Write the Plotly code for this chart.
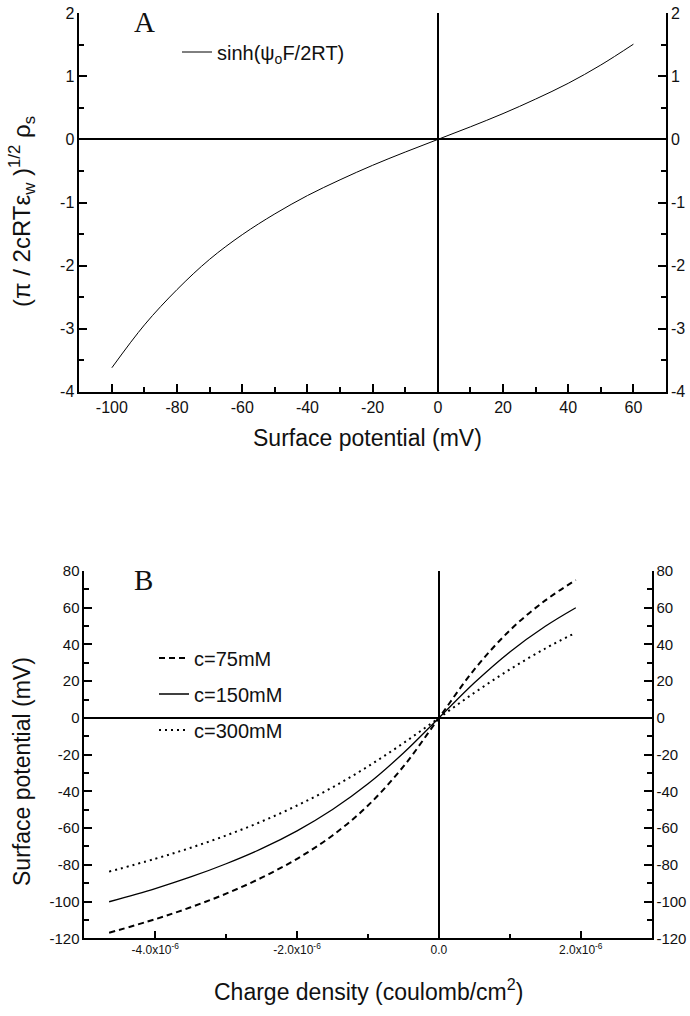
import plotly.graph_objects as go

# ---------- Panel A data ----------
psi_mV = [-100, -90, -80, -70, -60, -50, -40, -30, -20, -10, 0, 10, 20, 30, 40, 50, 60]
sinh_vals = [-3.62, -2.94, -2.38, -1.90, -1.51, -1.18, -0.89, -0.64, -0.41, -0.20, 0.0,
             0.20, 0.41, 0.64, 0.89, 1.18, 1.51]
xA_ticks = [-100, -80, -60, -40, -20, 0, 20, 40, 60]
yA_ticks = [-4, -3, -2, -1, 0, 1, 2]

# ---------- Panel B data ----------
sigma = [-4.65e-6, -4.0e-6, -3.5e-6, -3.0e-6, -2.5e-6, -2.0e-6, -1.5e-6, -1.0e-6, -0.5e-6,
         0.0, 0.5e-6, 1.0e-6, 1.5e-6, 1.93e-6]
pot_75 = [-117.0, -109.6, -103.1, -95.7, -87.0, -76.7, -64.0, -47.7, -26.4,
          0.0, 26.4, 47.7, 64.0, 75.1]
pot_150 = [-100.1, -92.9, -86.6, -79.4, -71.2, -61.5, -49.9, -35.9, -19.1,
           0.0, 19.1, 35.9, 49.9, 60.0]
pot_300 = [-83.7, -76.7, -70.7, -64.0, -56.4, -47.7, -37.8, -26.4, -13.7,
           0.0, 13.7, 26.4, 37.8, 46.4]
xB_tickvals = [-4e-6, -2e-6, 0.0, 2e-6]
xB_ticktext = ["-4.0x10<sup>-6</sup>", "-2.0x10<sup>-6</sup>", "0.0", "2.0x10<sup>-6</sup>"]
yB_ticks = [-120, -100, -80, -60, -40, -20, 0, 20, 40, 60, 80]

W, H = 690, 1016
FONT = "Liberation Sans, Arial, sans-serif"
INK = "#111"


def px_x(p):
    return p / W


def px_y(p):
    return 1 - p / H


def lab(v):
    return str(v)  # plain hyphen-minus like the original


fig = go.Figure()

fig.add_trace(go.Scatter(x=psi_mV, y=sinh_vals, mode="lines",
                         line=dict(color="black", width=1, shape="spline"),
                         name="sinh(ψ<sub>o</sub>F/2RT)", xaxis="x", yaxis="y", legend="legend"))
# same curve referenced on the right-hand axis so that axis gets drawn
fig.add_trace(go.Scatter(x=psi_mV, y=sinh_vals, mode="lines", line=dict(color="rgba(0,0,0,0)", width=1),
                         showlegend=False, hoverinfo="skip", xaxis="x", yaxis="y2"))

fig.add_trace(go.Scatter(x=sigma, y=pot_75, mode="lines", name="c=75mM",
                         line=dict(color="black", width=2, dash="6px,4px", shape="spline"),
                         xaxis="x3", yaxis="y3", legend="legend2", legendgroup="a"))
fig.add_trace(go.Scatter(x=sigma, y=pot_150, mode="lines", name="c=150mM",
                         line=dict(color="black", width=1.3, shape="spline"),
                         xaxis="x3", yaxis="y3", legend="legend2", legendgroup="b"))
fig.add_trace(go.Scatter(x=sigma, y=pot_300, mode="lines", name="c=300mM",
                         line=dict(color="black", width=2, dash="2px,4px", shape="spline"),
                         xaxis="x3", yaxis="y3", legend="legend2", legendgroup="c"))
fig.add_trace(go.Scatter(x=sigma, y=pot_150, mode="lines", line=dict(color="rgba(0,0,0,0)", width=1),
                         showlegend=False, hoverinfo="skip", xaxis="x3", yaxis="y4"))


def ax(size, **kw):
    d = dict(showgrid=False, showline=True, linecolor="black", linewidth=1.5, automargin=False,
             ticks="inside", ticklen=8, tickwidth=1.5, tickcolor="black",
             tickfont=dict(family=FONT, size=size, color=INK), zeroline=False)
    d.update(kw)
    return d


def minor(**kw):
    d = dict(ticks="inside", ticklen=5, tickwidth=1.5, tickcolor="black")
    d.update(kw)
    return d


domA_x = [px_x(79.3), px_x(666)]
domA_y = [px_y(391.7), px_y(13.3)]
domB_x = [px_x(84.3), px_x(651.7)]
domB_y = [px_y(938.3), px_y(571)]

fig.update_layout(
    width=W, height=H, margin=dict(l=0, r=0, t=0, b=0, autoexpand=False),
    paper_bgcolor="white", plot_bgcolor="white",
    xaxis=ax(16, domain=domA_x, range=[-110, 70], anchor="y",
             tickvals=xA_ticks, ticktext=[lab(v) for v in xA_ticks],
             zeroline=True, zerolinecolor="black", zerolinewidth=1.5,
             minor=minor(dtick=10, tick0=0)),
    yaxis=ax(16, domain=domA_y, range=[-4, 2], anchor="x",
             tickvals=yA_ticks, ticktext=[lab(v) for v in yA_ticks],
             zeroline=True, zerolinecolor="black", zerolinewidth=1.5,
             minor=minor(dtick=0.5, tick0=0)),
    yaxis2=ax(16, domain=domA_y, range=[-4, 2], anchor="x", overlaying="y", side="right",
              tickvals=yA_ticks, ticktext=[lab(v) for v in yA_ticks],
              minor=minor(dtick=0.5, tick0=0)),
    xaxis3=ax(12, domain=domB_x, range=[-5e-6, 3e-6], anchor="y3",
              tickvals=xB_tickvals, ticktext=xB_ticktext,
              zeroline=True, zerolinecolor="black", zerolinewidth=1.5,
              minor=minor(tickvals=[-5e-6, -3e-6, -1e-6, 1e-6, 3e-6])),
    yaxis3=ax(15, domain=domB_y, range=[-120, 80], anchor="x3",
              tickvals=yB_ticks, ticktext=[lab(v) for v in yB_ticks],
              zeroline=True, zerolinecolor="black", zerolinewidth=1.5,
              minor=minor(dtick=10, tick0=0)),
    yaxis4=ax(15, domain=domB_y, range=[-120, 80], anchor="x3", overlaying="y3", side="right",
              tickvals=yB_ticks, ticktext=[lab(v) for v in yB_ticks],
              minor=minor(dtick=10, tick0=0)),
    legend=dict(x=px_x(177), y=px_y(52), xanchor="left", yanchor="middle", bgcolor="rgba(0,0,0,0)",
                font=dict(family=FONT, size=20, color=INK)),
    legend2=dict(x=px_x(154), y=px_y(694), xanchor="left", yanchor="middle", bgcolor="rgba(0,0,0,0)",
                 tracegroupgap=7, font=dict(family=FONT, size=20, color=INK)),
    showlegend=True,
)

annots = [
    dict(text="A", x=px_x(144), y=px_y(22),
         font=dict(family="Liberation Serif, Times New Roman, serif", size=29, color=INK)),
    dict(text="B", x=px_x(143), y=px_y(580),
         font=dict(family="Liberation Serif, Times New Roman, serif", size=29, color=INK)),
    dict(text="Surface potential (mV)", x=px_x(367), y=px_y(438), font=dict(family=FONT, size=23, color=INK)),
    dict(text="Charge density (coulomb/cm<sup>2</sup>)", x=px_x(368), y=px_y(990),
         font=dict(family=FONT, size=23, color=INK)),
    dict(text="(π / 2cRTε<sub>w</sub> )<sup>1/2</sup> ρ<sub>s</sub>", x=px_x(22), y=px_y(212), textangle=-90,
         font=dict(family=FONT, size=24, color=INK)),
    dict(text="Surface potential (mV)", x=px_x(22), y=px_y(772), textangle=-90,
         font=dict(family=FONT, size=23, color=INK)),
]
for a in annots:
    fig.add_annotation(xref="paper", yref="paper", showarrow=False, xanchor="center", yanchor="middle", **a)

# remove the browser's default 8px body margin so the figure sits at the page origin
fig.write_html("out.html", config={"displayModeBar": False},
               post_script="document.body.style.margin='0';document.body.style.padding='0';")
